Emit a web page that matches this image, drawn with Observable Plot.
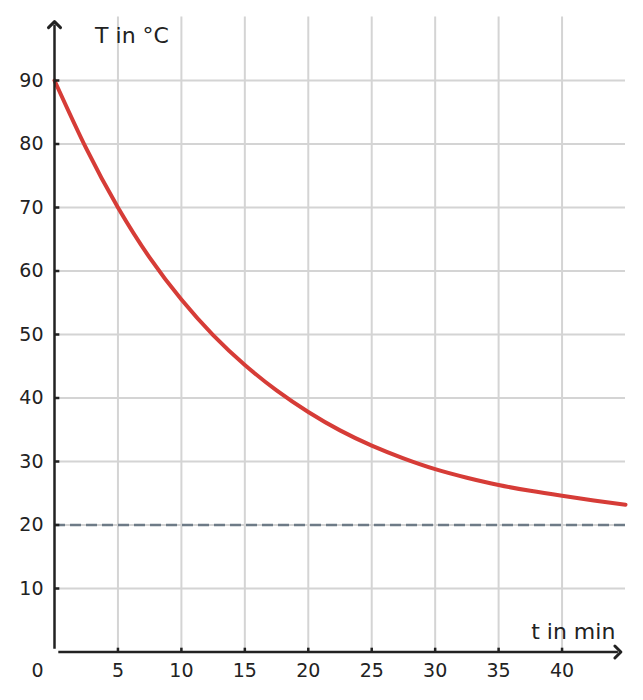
<!DOCTYPE html>
<html>
<head>
<meta charset="utf-8">
<script src="https://cdn.jsdelivr.net/npm/d3@7"></script>
<script src="https://cdn.jsdelivr.net/npm/@observablehq/plot@0.6"></script>
<style>
  body { margin: 0; background: #fff; }
  svg { display: block; }
</style>
</head>
<body>
<div id="chart"></div>
<script>
// Time in minutes and temperature in °C
const tMin = [0, 2.5, 5, 7.5, 10, 12.5, 15, 17.5, 20, 22.5, 25, 27.5, 30, 32.5, 35, 37.5, 40, 42.5, 45];
const tempC = [90, 79.3, 70, 62.1, 55.5, 49.9, 45.2, 41.2, 37.8, 34.9, 32.5, 30.5, 28.8, 27.45, 26.3, 25.38, 24.6, 23.87, 23.2];
const ambient = [20];
const xTicks = [5, 10, 15, 20, 25, 30, 35, 40];
const yTicks = [10, 20, 30, 40, 50, 60, 70, 80, 90];
const yLabel = "T in °C";
const xLabel = "t in min";

const data = tMin.map((t, i) => ({t, T: tempC[i]}));
const ink = "#222";
const font = "DejaVu Sans, sans-serif";

const chart = Plot.plot({
  width: 643,
  height: 700,
  marginLeft: 54,
  marginRight: 18,
  marginTop: 16.5,
  marginBottom: 48.5,
  x: {domain: [0, 45]},
  y: {domain: [0, 100]},
  style: {background: "#fff", fontFamily: font},
  marks: [
    Plot.gridX({ticks: xTicks, stroke: "#d4d4d4", strokeOpacity: 1, strokeWidth: 2}),
    Plot.gridY({ticks: yTicks, stroke: "#d4d4d4", strokeOpacity: 1, strokeWidth: 2}),
    Plot.ruleY(ambient, {stroke: "#6e7b87", strokeWidth: 2.5, strokeDasharray: "11,5"}),
    Plot.line(data, {x: "t", y: "T", stroke: "#d63c37", strokeWidth: 4, curve: "natural"}),
    // axes with arrows
    Plot.link([0], {x1: () => 0, x2: () => 0, y1: () => 0.5, y2: () => 98.8, stroke: ink, strokeWidth: 2.5, markerEnd: "arrow"}),
    Plot.link([0], {x1: () => 0.3, x2: () => 44.4, y1: () => 0, y2: () => 0, stroke: ink, strokeWidth: 2.5, markerEnd: "arrow"}),
    // ticks
    Plot.ruleY(yTicks, {x1: () => 0, x2: () => 0.42, stroke: ink, strokeWidth: 2.5}),
    Plot.ruleX(xTicks, {y1: () => 0, y2: () => 0.6, stroke: ink, strokeWidth: 2.5}),
    // tick labels
    Plot.axisY({ticks: yTicks, tickSize: 0, tickPadding: 11, fontSize: 19, fill: ink, label: null}),
    Plot.axisX({ticks: xTicks, tickSize: 0, tickPadding: 11.5, fontSize: 19, fill: ink, label: null}),
    Plot.axisX({ticks: [0], tickSize: 0, tickPadding: 11.5, fontSize: 19, fill: ink, label: null, dx: -17}),
    // axis titles
    Plot.text([yLabel], {x: () => 3.2, y: () => 97.0, text: d => d, textAnchor: "start", fontSize: 22, fill: ink}),
    Plot.text([xLabel], {x: () => 44.2, y: () => 3.2, text: d => d, textAnchor: "end", fontSize: 22, fill: ink})
  ]
});
d3.select(chart).selectAll("marker").attr("markerWidth", 8).attr("markerHeight", 8);
document.getElementById("chart").appendChild(chart);
</script>
</body>
</html>
